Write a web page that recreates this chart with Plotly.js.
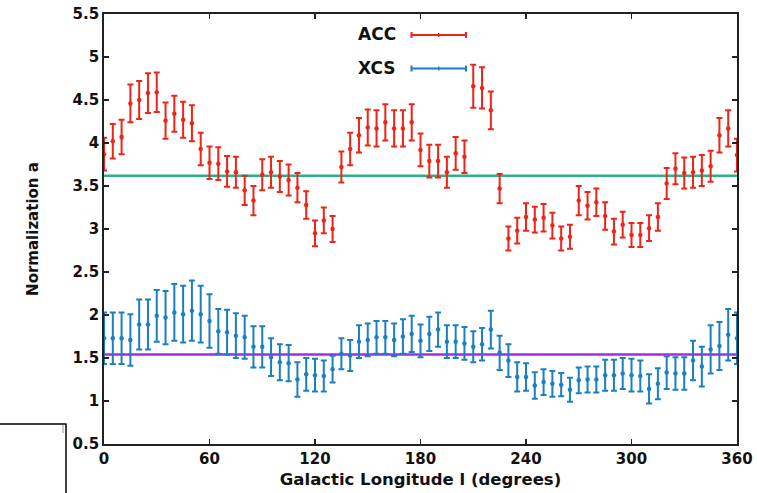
<!DOCTYPE html>
<html>
<head>
<meta charset="utf-8">
<script src="https://cdn.plot.ly/plotly-3.0.1.min.js"></script>
<style>html,body{margin:0;padding:0;background:#fff;}#chart{width:757px;height:493px;}</style>
</head>
<body>
<div id="chart"></div>
<script>
// Galactic longitude (degrees)
const lon = [0,5,10,15,20,25,30,35,40,45,50,55,60,65,70,75,80,85,90,95,100,105,110,115,120,125,130,135,140,145,150,155,160,165,170,175,180,185,190,195,200,205,210,215,220,225,230,235,240,245,250,255,260,265,270,275,280,285,290,295,300,305,310,315,320,325,330,335,340,345,350,355,360];

// ACC normalization and errors
const acc = [3.87,4.02,4.07,4.46,4.50,4.58,4.59,4.26,4.34,4.27,4.23,3.93,3.77,3.76,3.67,3.66,3.45,3.33,3.63,3.66,3.61,3.57,3.48,3.28,2.95,3.10,3.00,3.72,3.93,4.09,4.18,4.17,4.24,4.17,4.17,4.24,3.92,3.79,3.79,3.66,3.88,3.84,4.66,4.64,4.38,3.47,2.89,2.98,3.14,3.11,3.13,3.04,2.89,2.91,3.33,3.27,3.31,3.15,2.97,3.05,2.93,2.93,3.01,3.14,3.53,3.70,3.65,3.66,3.68,3.73,4.09,4.17,3.86];
const accErr = [0.19,0.20,0.20,0.22,0.22,0.23,0.23,0.21,0.21,0.21,0.21,0.19,0.19,0.19,0.18,0.18,0.17,0.17,0.18,0.18,0.18,0.18,0.17,0.16,0.15,0.15,0.15,0.18,0.19,0.20,0.21,0.21,0.21,0.21,0.21,0.21,0.19,0.19,0.19,0.18,0.19,0.19,0.25,0.24,0.22,0.17,0.14,0.15,0.16,0.15,0.16,0.15,0.14,0.14,0.17,0.16,0.16,0.16,0.15,0.15,0.14,0.14,0.15,0.16,0.18,0.18,0.18,0.18,0.18,0.18,0.20,0.21,0.19];

// XCS normalization and errors
const xcs = [1.73,1.73,1.73,1.71,1.89,1.89,1.99,1.97,2.03,2.01,2.05,2.01,1.93,1.81,1.80,1.76,1.74,1.63,1.63,1.51,1.45,1.44,1.25,1.31,1.30,1.29,1.37,1.55,1.53,1.69,1.71,1.74,1.74,1.71,1.75,1.78,1.70,1.78,1.83,1.69,1.69,1.67,1.63,1.66,1.83,1.56,1.47,1.28,1.28,1.18,1.22,1.20,1.19,1.13,1.24,1.25,1.25,1.30,1.30,1.32,1.30,1.29,1.14,1.20,1.33,1.32,1.32,1.47,1.40,1.60,1.64,1.77,1.73];
const xcsErr = [0.30,0.30,0.30,0.30,0.29,0.29,0.30,0.31,0.33,0.33,0.35,0.33,0.31,0.26,0.26,0.26,0.25,0.24,0.24,0.22,0.21,0.21,0.20,0.19,0.19,0.18,0.155,0.18,0.18,0.19,0.19,0.19,0.19,0.19,0.20,0.21,0.19,0.20,0.20,0.19,0.19,0.19,0.18,0.19,0.22,0.20,0.19,0.17,0.16,0.155,0.15,0.15,0.135,0.14,0.15,0.15,0.15,0.18,0.18,0.18,0.19,0.18,0.17,0.18,0.19,0.19,0.19,0.23,0.23,0.28,0.28,0.30,0.30];

// Mean levels
const meanX = [0, 360];
const accMean = [3.62, 3.62];
const xcsMean = [1.54, 1.54];

// Axis ticks
const xTicks = [0,60,120,180,240,300,360];
const xTickText = ['0','60','120','180','240','300','360'];
const yTicks = [0.5,1,1.5,2,2.5,3,3.5,4,4.5,5,5.5];
const yTickText = ['0.5','1','1.5','2','2.5','3','3.5','4','4.5','5','5.5'];

const RED = '#ee2418', BLUE = '#1b7fc1', GREEN = '#2eb088', PURPLE = '#a02ee0';
const FONT = 'DejaVu Sans, Liberation Sans, Arial, sans-serif';

const traces = [
  {x: meanX, y: accMean, mode: 'lines', line: {color: GREEN, width: 2.5}, showlegend: false, hoverinfo: 'skip'},
  {x: meanX, y: xcsMean, mode: 'lines', line: {color: PURPLE, width: 2.5}, showlegend: false, hoverinfo: 'skip'},
  {x: lon, y: acc, name: 'ACC', mode: 'markers', marker: {color: RED, size: 4.5},
   error_y: {type: 'data', array: accErr, visible: true, color: RED, thickness: 2, width: 3}, showlegend: false},
  {x: lon, y: xcs, name: 'XCS', mode: 'markers', marker: {color: BLUE, size: 4.5},
   error_y: {type: 'data', array: xcsErr, visible: true, color: BLUE, thickness: 2, width: 3}, showlegend: false}
];

// plot area in pixels for legend placement (paper coords)
const L = 104, R = 20, T = 14, B = 49, W = 757, H = 493;
const pw = W - L - R, ph = H - T - B;
const px = v => (v - L) / pw;
const py = v => (H - B - v) / ph;

function legendShapes(yPix, color) {
  const x0 = px(411.5), x1 = px(466), xm = px(438.7);
  const y = py(yPix), d = 3 / ph;
  return [
    {type: 'line', xref: 'paper', yref: 'paper', x0: x0, x1: x1, y0: y, y1: y, line: {color: color, width: 2}},
    {type: 'line', xref: 'paper', yref: 'paper', x0: x0, x1: x0, y0: y - d, y1: y + d, line: {color: color, width: 2}},
    {type: 'line', xref: 'paper', yref: 'paper', x0: x1, x1: x1, y0: y - d, y1: y + d, line: {color: color, width: 2}},
    {type: 'line', xref: 'paper', yref: 'paper', x0: xm, x1: xm, y0: y - 2/ph, y1: y + 2/ph, line: {color: color, width: 1.5}}
  ];
}

const shapes = [].concat(
  legendShapes(35, RED),
  legendShapes(68.5, BLUE),
  [
    {type: 'line', xref: 'paper', yref: 'paper', x0: px(0), x1: px(66.5), y0: py(424), y1: py(424), line: {color: '#000', width: 1.5}},
    {type: 'line', xref: 'paper', yref: 'paper', x0: px(66), x1: px(66), y0: py(424), y1: py(494), line: {color: '#000', width: 1.5}},
    {type: 'line', xref: 'paper', yref: 'paper', x0: px(63), x1: px(63), y0: py(425), y1: py(433), line: {color: '#999', width: 1}}
  ]
);

const layout = {
  width: W, height: H,
  margin: {l: L, r: R, t: T, b: B, pad: 0},
  paper_bgcolor: '#fff', plot_bgcolor: '#fff',
  font: {family: FONT, color: '#111', size: 14},
  showlegend: false,
  xaxis: {
    range: [0, 360], tickvals: xTicks, ticktext: xTickText,
    ticks: 'inside', ticklen: 5, tickwidth: 1.5, tickcolor: '#222',
    showline: true, linecolor: '#222', linewidth: 1.8, mirror: 'ticks',
    showgrid: false, zeroline: false,
    tickfont: {family: FONT, size: 15, color: '#111', weight: 'bold'},
    title: {text: 'Galactic Longitude l (degrees)', font: {family: FONT, size: 16.5, color: '#111', weight: 'bold'}, standoff: 7}
  },
  yaxis: {
    range: [0.5, 5.5], tickvals: yTicks, ticktext: yTickText,
    ticks: 'inside', ticklen: 5, tickwidth: 1.5, tickcolor: '#222',
    showline: true, linecolor: '#222', linewidth: 1.8, mirror: 'ticks',
    showgrid: false, zeroline: false,
    tickfont: {family: FONT, size: 15, color: '#111', weight: 'bold'},
    title: {text: 'Normalization a', font: {family: FONT, size: 15, color: '#111', weight: 'bold'}, standoff: 30}
  },
  annotations: [
    {xref: 'paper', yref: 'paper', x: px(398), y: py(34), xanchor: 'right', yanchor: 'middle', showarrow: false,
     text: 'ACC', font: {family: FONT, size: 17, color: '#111', weight: 'bold'}},
    {xref: 'paper', yref: 'paper', x: px(398), y: py(68), xanchor: 'right', yanchor: 'middle', showarrow: false,
     text: 'XCS', font: {family: FONT, size: 17, color: '#111', weight: 'bold'}}
  ],
  shapes: shapes
};

Plotly.newPlot('chart', traces, layout, {staticPlot: true, displayModeBar: false});
</script>
</body>
</html>
